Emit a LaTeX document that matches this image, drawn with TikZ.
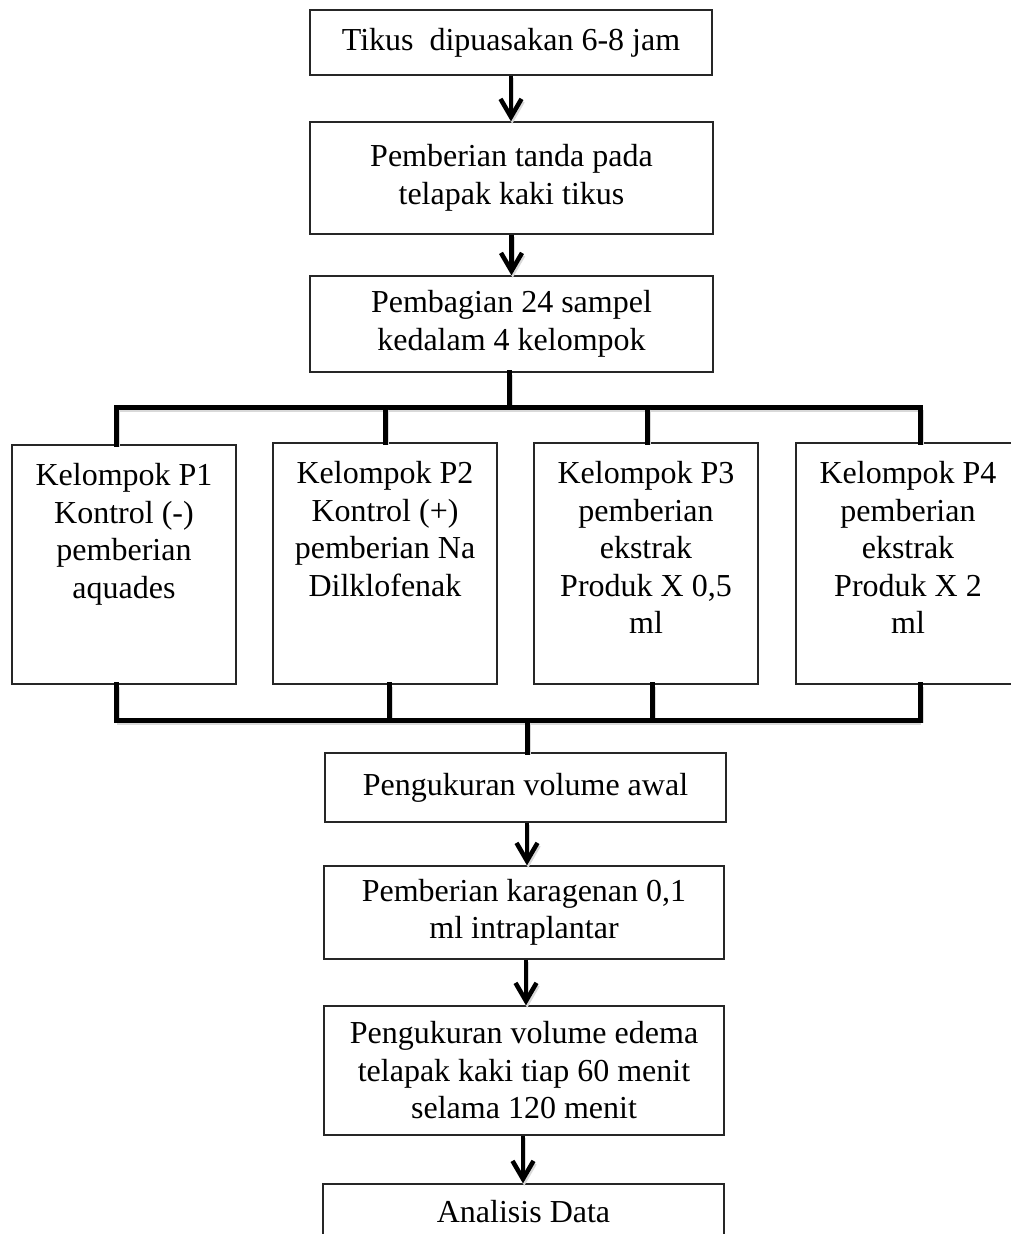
\documentclass[tikz,border=0pt]{standalone}
\usepackage{fontspec}
\setmainfont{Liberation Serif}
\usetikzlibrary{arrows.meta,calc}
\begin{document}
\begin{tikzpicture}[x=1pt,y=-1pt,
  txt/.style={font=\fontsize{32}{37.5}\selectfont, align=center, inner sep=0pt},
  box/.style={draw=black!85, line width=1.3pt, inner sep=0pt, align=center,
    font=\fontsize{32}{37.5}\selectfont, fill=white},
  conn/.style={line width=5pt, line cap=rect,
    preaction={draw=black!15, line width=5pt, transform canvas={shift={(1.2pt,-2.5pt)}}}},
  arr/.style={line width=4.5pt, -{Straight Barb[length=18pt,width=21pt,line width=4.5pt]},
    preaction={draw=black!15, line width=4.5pt, transform canvas={shift={(1.2pt,-2.5pt)}}}}
]
\useasboundingbox (0,0) rectangle (1011,1234);
\fill[white] (0,0) rectangle (1011,1234);

% top chain
\node[box, minimum width=402pt, minimum height=65pt] (b1) at (511,42.5) {Tikus\ \ dipuasakan 6-8 jam};
\node[box, minimum width=403pt, minimum height=112pt] (b2) at (511.5,178) {Pemberian tanda pada\\telapak kaki tikus};
\node[box, minimum width=403pt, minimum height=96pt] (b3) at (511.5,324) {Pembagian 24 sampel\\kedalam 4 kelompok};

% groups
\node[box, minimum width=224pt, minimum height=239pt] (p1) at (124,564.5) {};
\node[box, minimum width=224pt, minimum height=241pt] (p2) at (385,563.5) {};
\node[box, minimum width=224pt, minimum height=241pt] (p3) at (646,563.5) {};
\node[box, minimum width=224pt, minimum height=241pt] (p4) at (908,563.5) {};
\node[txt, anchor=north] (p1t) at ($(p1.north)+(0,19)$) {Kelompok P1\\Kontrol (-)\\pemberian\\aquades};
\node[txt, anchor=north] (p2t) at ($(p2.north)+(0,19)$) {Kelompok P2\\Kontrol (+)\\pemberian Na\\Dilklofenak};
\node[txt, anchor=north] (p3t) at ($(p3.north)+(0,19)$) {Kelompok P3\\pemberian\\ekstrak\\Produk X 0,5\\ml};
\node[txt, anchor=north] (p4t) at ($(p4.north)+(0,19)$) {Kelompok P4\\pemberian\\ekstrak\\Produk X 2\\ml};

% bottom chain
\node[box, minimum width=401pt, minimum height=69pt] (b4) at (525.5,787.5) {Pengukuran volume awal};
\node[box, minimum width=400pt, minimum height=93pt] (b5) at (524,912.5) {Pemberian karagenan 0,1\\ml intraplantar};
\node[box, minimum width=400pt, minimum height=129pt] (b6) at (524,1070.5) {Pengukuran volume edema\\telapak kaki tiap 60 menit\\selama 120 menit};
\node[box, minimum width=401pt, minimum height=100pt] (b7) at (523.5,1234) {};
\node[txt] (b7t) at (523.5,1211.5) {Analisis Data};

% bus coordinates
\coordinate (busA) at (0,407);
\coordinate (busB) at (0,720);
\coordinate (busAl) at (116,407);
\coordinate (busAr) at (920,407);
\coordinate (busBl) at (116,720);
\coordinate (busBr) at (920,720);

% arrows
\draw[arr] (b1.south) -- (b1.south |- b2.north);
\draw[arr] (b2.south) -- (b2.south |- b3.north);
\draw[arr] ($(b4.south)+(1.5,0)$) -- ($(b4.south |- b5.north)+(1.5,0)$);
\draw[arr] ($(b5.south)+(2,0)$) -- ($(b5.south |- b6.north)+(2,0)$);
\draw[arr] ($(b6.south)+(-1,0)$) -- ($(b6.south |- b7.north)+(-1,0)$);

% upper tree
\draw[conn] ($(b3.south)+(-2.5,0)$) -- ($(b3.south |- busA)+(-2.5,0)$);
\draw[conn] (busAl) -- (busAr);
\draw[conn] (busAl) -- (busAl |- p1.north);
\draw[conn] (p2.north |- busA) -- (p2.north);
\draw[conn] ($(p3.north |- busA)+(1,0)$) -- ($(p3.north)+(1,0)$);
\draw[conn] (busAr) -- (busAr |- p4.north);

% lower tree
\draw[conn] (busBl |- p1.south) -- (busBl);
\draw[conn] ($(p2.south)+(4,0)$) -- ($(p2.south |- busB)+(4,0)$);
\draw[conn] ($(p3.south)+(6,0)$) -- ($(p3.south |- busB)+(6,0)$);
\draw[conn] (busBr |- p4.south) -- (busBr);
\draw[conn] (busBl) -- (busBr);
\draw[conn] ($(b4.north |- busB)+(1.5,0)$) -- ($(b4.north)+(1.5,0)$);
\end{tikzpicture}
\end{document}
